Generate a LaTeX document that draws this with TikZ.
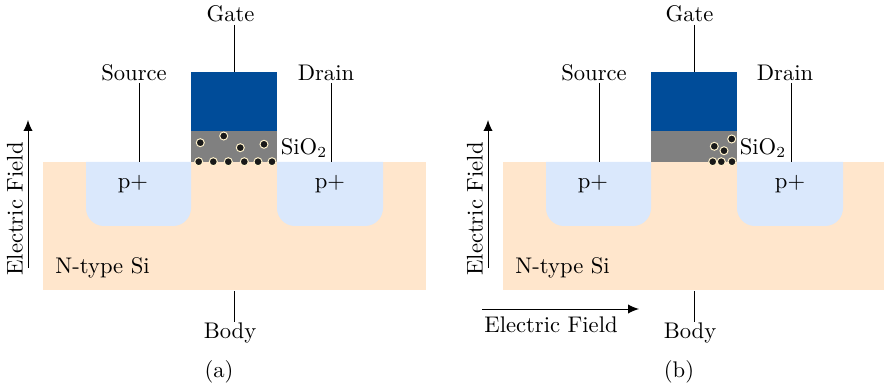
\documentclass[tikz,border=0pt]{standalone}
\usetikzlibrary{arrows.meta}
\definecolor{siliconfill}{HTML}{FFE6CC}
\definecolor{wellfill}{HTML}{DAE8FC}
\definecolor{gatefill}{HTML}{004C99}
\definecolor{oxidefill}{HTML}{808080}
\definecolor{electronring}{HTML}{FFF2CC}
\tikzset{
  silicon/.style={fill=siliconfill},
  well/.style={fill=wellfill},
  gatemetal/.style={fill=gatefill},
  oxide/.style={fill=oxidefill},
  electron/.style={fill=black!90,draw=electronring,line width=0.45pt},
  lead/.style={black,line width=0.45pt},
  field/.style={black,line width=0.45pt,-{Latex[length=5pt,width=4.2pt]}},
  label/.style={inner sep=0pt,anchor=center,font=\fontsize{10.3}{12}\selectfont}
}
\begin{document}
\begin{tikzpicture}[x=0.016cm,y=0.016cm]
\useasboundingbox (0,0) rectangle (884,388);

%% - Draw panel (a)
%% - --------------------------------------

\fill[silicon] (43,98) rectangle (426,226);
\fill[well] (86,226) -- (86,180) arc[start angle=180,end angle=270,radius=18] -- (173,162) arc[start angle=270,end angle=360,radius=18] -- (191,226) -- cycle;
\fill[well] (277,226) -- (277,180) arc[start angle=180,end angle=270,radius=18] -- (365,162) arc[start angle=270,end angle=360,radius=18] -- (383,226) -- cycle;
\fill[oxide] (191,225.5) rectangle (277,257);
\fill[gatemetal] (191,257) rectangle (277,316);

%% - electrons
%% - --------------------------------------
\filldraw[electron] (200.3,245.3) circle (4);
\filldraw[electron] (223.7,252) circle (4);
\filldraw[electron] (240.3,240.3) circle (4);
\filldraw[electron] (264,243.7) circle (4);
\filldraw[electron] (198.7,226.3) circle (4);
\filldraw[electron] (213.3,226.3) circle (4);
\filldraw[electron] (228.3,226.3) circle (4);
\filldraw[electron] (244.3,226.3) circle (4);
\filldraw[electron] (258,226.3) circle (4);
\filldraw[electron] (272,226.3) circle (4);

%% - labels and leads
%% - --------------------------------------
\node[label] (gateA) at (230.5,374) {Gate};
\node[label] (sourceA) at (134,315) {Source};
\node[label] (drainA) at (326,315) {Drain};
\node[label] (bodyA) at (230,55) {Body};
\node[label] (oxideA) at (304,240) {SiO$_2$};
\node[label] (wellLA) at (133,203.5) {p+};
\node[label] (wellRA) at (330,203.5) {p+};
\node[label,anchor=west] (siliconA) at (55,120.5) {N-type Si};
\node[label] (captionA) at (219,16) {(a)};

\coordinate (gateTopA) at (234,316);
\coordinate (sourceEndA) at (139,226);
\coordinate (sourceStartA) at (139,305);
\coordinate (drainEndA) at (331,226);
\coordinate (drainStartA) at (331,305);
\coordinate (bodyEndA) at (234,97);
\coordinate (bodyStartA) at (234,66);
\coordinate (gateStartA) at (234,363);

\draw[lead] (gateStartA) -- (gateTopA);
\draw[lead] (sourceStartA) -- (sourceEndA);
\draw[lead] (drainStartA) -- (drainEndA);
\draw[lead] (bodyStartA) -- (bodyEndA);

%% - field arrow
%% - --------------------------------------
\coordinate (fieldFromA) at (28,120);
\coordinate (fieldToA) at (28,268);
\draw[field] (fieldFromA) -- (fieldToA);
\node[label,rotate=90] (fieldTextA) at (15,179) {Electric Field};

%% - Draw panel (b)
%% - --------------------------------------

\fill[silicon] (503,98) rectangle (886,226);
\fill[well] (546,226) -- (546,180) arc[start angle=180,end angle=270,radius=18] -- (633,162) arc[start angle=270,end angle=360,radius=18] -- (651,226) -- cycle;
\fill[well] (737,226) -- (737,180) arc[start angle=180,end angle=270,radius=18] -- (825,162) arc[start angle=270,end angle=360,radius=18] -- (843,226) -- cycle;
\fill[oxide] (651,225.5) rectangle (737,257);
\fill[gatemetal] (651,257) rectangle (737,316);

%% - electrons
%% - --------------------------------------
\filldraw[electron] (731.7,249) circle (4);
\filldraw[electron] (714.3,241.7) circle (4);
\filldraw[electron] (724,237.3) circle (4);
\filldraw[electron] (712.7,226.3) circle (4);
\filldraw[electron] (721.3,226.3) circle (4);
\filldraw[electron] (732,226.3) circle (4);

%% - labels and leads
%% - --------------------------------------
\node[label] (gateB) at (689.5,374) {Gate};
\node[label] (sourceB) at (594,315) {Source};
\node[label] (drainB) at (785,315) {Drain};
\node[label] (bodyB) at (690,55) {Body};
\node[label] (oxideB) at (763,240) {SiO$_2$};
\node[label] (wellLB) at (593,203.5) {p+};
\node[label] (wellRB) at (790,203.5) {p+};
\node[label,anchor=west] (siliconB) at (515,120.5) {N-type Si};
\node[label] (captionB) at (679,16) {(b)};

\coordinate (gateTopB) at (694,316);
\coordinate (sourceEndB) at (599,226);
\coordinate (sourceStartB) at (599,305);
\coordinate (drainEndB) at (791,226);
\coordinate (drainStartB) at (791,305);
\coordinate (bodyEndB) at (694.3,97);
\coordinate (bodyStartB) at (694.3,66);
\coordinate (gateStartB) at (694,363);

\draw[lead] (gateStartB) -- (gateTopB);
\draw[lead] (sourceStartB) -- (sourceEndB);
\draw[lead] (drainStartB) -- (drainEndB);
\draw[lead] (bodyStartB) -- (bodyEndB);

%% - field arrows
%% - --------------------------------------
\coordinate (fieldFromB) at (488,120);
\coordinate (fieldToB) at (488,268);
\draw[field] (fieldFromB) -- (fieldToB);
\node[label,rotate=90] (fieldTextB) at (475,179) {Electric Field};

\coordinate (sideFromB) at (482,79);
\coordinate (sideToB) at (639,79);
\draw[field] (sideFromB) -- (sideToB);
\node[label] (sideTextB) at (551,63) {Electric Field};

\end{tikzpicture}
\end{document}
